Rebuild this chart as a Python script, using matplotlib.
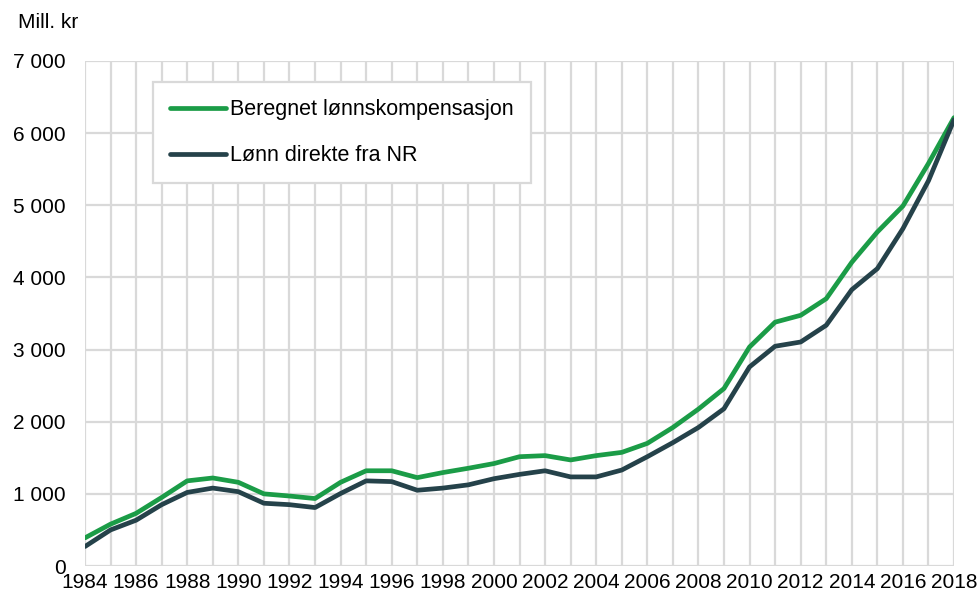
import matplotlib
matplotlib.use('Agg')
import matplotlib.pyplot as plt
from matplotlib.ticker import FuncFormatter

# years and series (Mill. kr)
years = list(range(1984, 2019))
beregnet = [390, 580, 730, 950, 1180, 1220, 1160, 1000, 970, 935,
            1160, 1320, 1320, 1225, 1295, 1355, 1420, 1515, 1530, 1470,
            1530, 1575, 1700, 1920, 2175, 2460, 3036, 3380, 3475, 3705,
            4210, 4630, 4990, 5580, 6215]
lonn_nr = [270, 500, 635, 850, 1020, 1080, 1030, 870, 850, 810,
           1005, 1180, 1170, 1050, 1080, 1125, 1210, 1270, 1320, 1235,
           1235, 1330, 1515, 1710, 1920, 2180, 2760, 3046, 3105, 3337,
           3830, 4122, 4676, 5340, 6185]

labels = ['Beregnet lønnskompensasjon', 'Lønn direkte fra NR']
green = '#1b9c47'
dark = '#25424a'
grid_c = '#d9d9d9'

plt.rcParams['font.family'] = ['Liberation Sans', 'DejaVu Sans']

fig = plt.figure(figsize=(9.79, 5.91), dpi=100)
ax = fig.add_axes([0.0868, 0.0423, 0.8877, 0.8545])

ax.plot(years, beregnet, color=green, lw=3.4, label=labels[0], solid_capstyle='round', zorder=3)
ax.plot(years, lonn_nr, color=dark, lw=3.4, label=labels[1], solid_capstyle='round', zorder=3)

ax.set_xlim(1984, 2018)
ax.set_ylim(0, 7000)
ax.set_xticks(range(1984, 2019, 2))
ax.set_xticks(years, minor=True)
ax.set_yticks(range(0, 7001, 1000))
ax.yaxis.set_major_formatter(FuncFormatter(lambda v, p: f'{int(v):,}'.replace(',', ' ')))

ax.grid(True, which='both', axis='x', color=grid_c, lw=1.6, zorder=0)
ax.grid(True, which='major', axis='y', color=grid_c, lw=1.6, zorder=0)
for s in ax.spines.values():
    s.set_visible(False)
ax.tick_params(which='both', length=0)
ax.tick_params(axis='x', labelsize=15, pad=5)
ax.tick_params(axis='y', labelsize=15, pad=14)
ax.set_axisbelow(True)

leg = ax.legend(loc='upper left', bbox_to_anchor=(0.078, 0.958), fontsize=15.5,
                frameon=True, fancybox=False, edgecolor=grid_c, framealpha=1,
                handlelength=2.6, handletextpad=0.2, labelspacing=1.15,
                borderpad=0.8, borderaxespad=0)
leg.get_frame().set_linewidth(1.6)

fig.text(18 / 979, 1 - 22 / 591, 'Mill. kr', fontsize=15, va='center', ha='left')

fig.savefig('out.png', dpi=100)
